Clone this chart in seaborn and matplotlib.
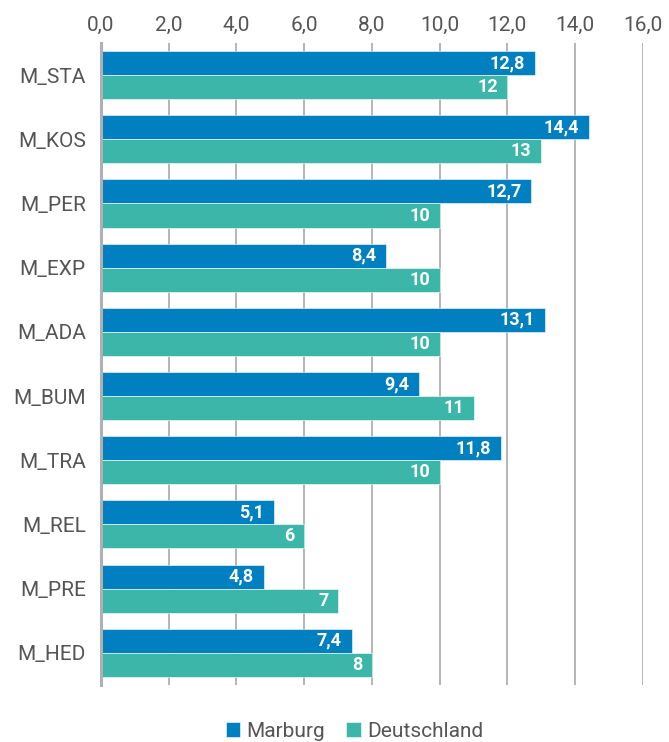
import pandas as pd
import matplotlib
matplotlib.use("Agg")
import matplotlib.pyplot as plt
import seaborn as sns
from matplotlib.ticker import FuncFormatter

# data
kategorien = ["M_STA", "M_KOS", "M_PER", "M_EXP", "M_ADA",
              "M_BUM", "M_TRA", "M_REL", "M_PRE", "M_HED"]
marburg = [12.8, 14.4, 12.7, 8.4, 13.1, 9.4, 11.8, 5.1, 4.8, 7.4]
deutschland = [12, 13, 10, 10, 10, 11, 10, 6, 7, 8]
x_ticks = [0, 2, 4, 6, 8, 10, 12, 14, 16]

farben = {"Marburg": "#0080c0", "Deutschland": "#3bb6a9"}
grau = "#555555"

df = pd.concat([
    pd.DataFrame({"kategorie": kategorien, "wert": marburg, "region": "Marburg"}),
    pd.DataFrame({"kategorie": kategorien, "wert": deutschland, "region": "Deutschland"}),
])

sns.set_style("white")
plt.rcParams["font.family"] = ["Roboto", "DejaVu Sans"]

fig = plt.figure(figsize=(6.69, 7.42), dpi=100)
ax = fig.add_axes([0.151, 0.077, 0.810, 0.865])

sns.barplot(data=df, x="wert", y="kategorie", hue="region", orient="h",
            palette=farben, saturation=1, width=0.75, ax=ax,
            edgecolor="white", linewidth=0.4, legend=True)

ax.set_xlim(0, 16)
ax.set_xticks(x_ticks)
ax.xaxis.set_major_formatter(FuncFormatter(lambda v, p: f"{v:.1f}".replace(".", ",")))
ax.xaxis.tick_top()
ax.tick_params(axis="x", length=0, pad=6, labelsize=15, labelcolor=grau)
ax.tick_params(axis="y", length=0, pad=11, labelsize=15, labelcolor=grau)
ax.set_xlabel("")
ax.set_ylabel("")

ax.grid(axis="x", color="#b0b0b0", linewidth=1.3)
ax.set_axisbelow(True)
for s in ["top", "right", "bottom"]:
    ax.spines[s].set_visible(False)
ax.spines["left"].set_color("#b0b0b0")
ax.spines["left"].set_linewidth(2.2)

# value labels inside bar ends
for cont, werte, fmt in zip(ax.containers, [marburg, deutschland],
                            [lambda v: f"{v:.1f}".replace(".", ","), lambda v: f"{v:.0f}"]):
    for p, v in zip(cont.patches, werte):
        ax.annotate(fmt(v), (p.get_width(), p.get_y() + p.get_height() / 2),
                    xytext=(-7, 0), textcoords="offset points",
                    ha="right", va="center", color="white",
                    fontsize=13, fontweight="bold")

handles, labels = ax.get_legend_handles_labels()
ax.legend_.remove()
fig.legend(handles, labels, loc="lower center", bbox_to_anchor=(0.53, -0.024),
           ncol=2, frameon=False, fontsize=15, labelcolor=grau,
           handlelength=0.7, handleheight=0.7, handletextpad=0.3,
           columnspacing=1.0)

fig.savefig("out.png", dpi=100)
